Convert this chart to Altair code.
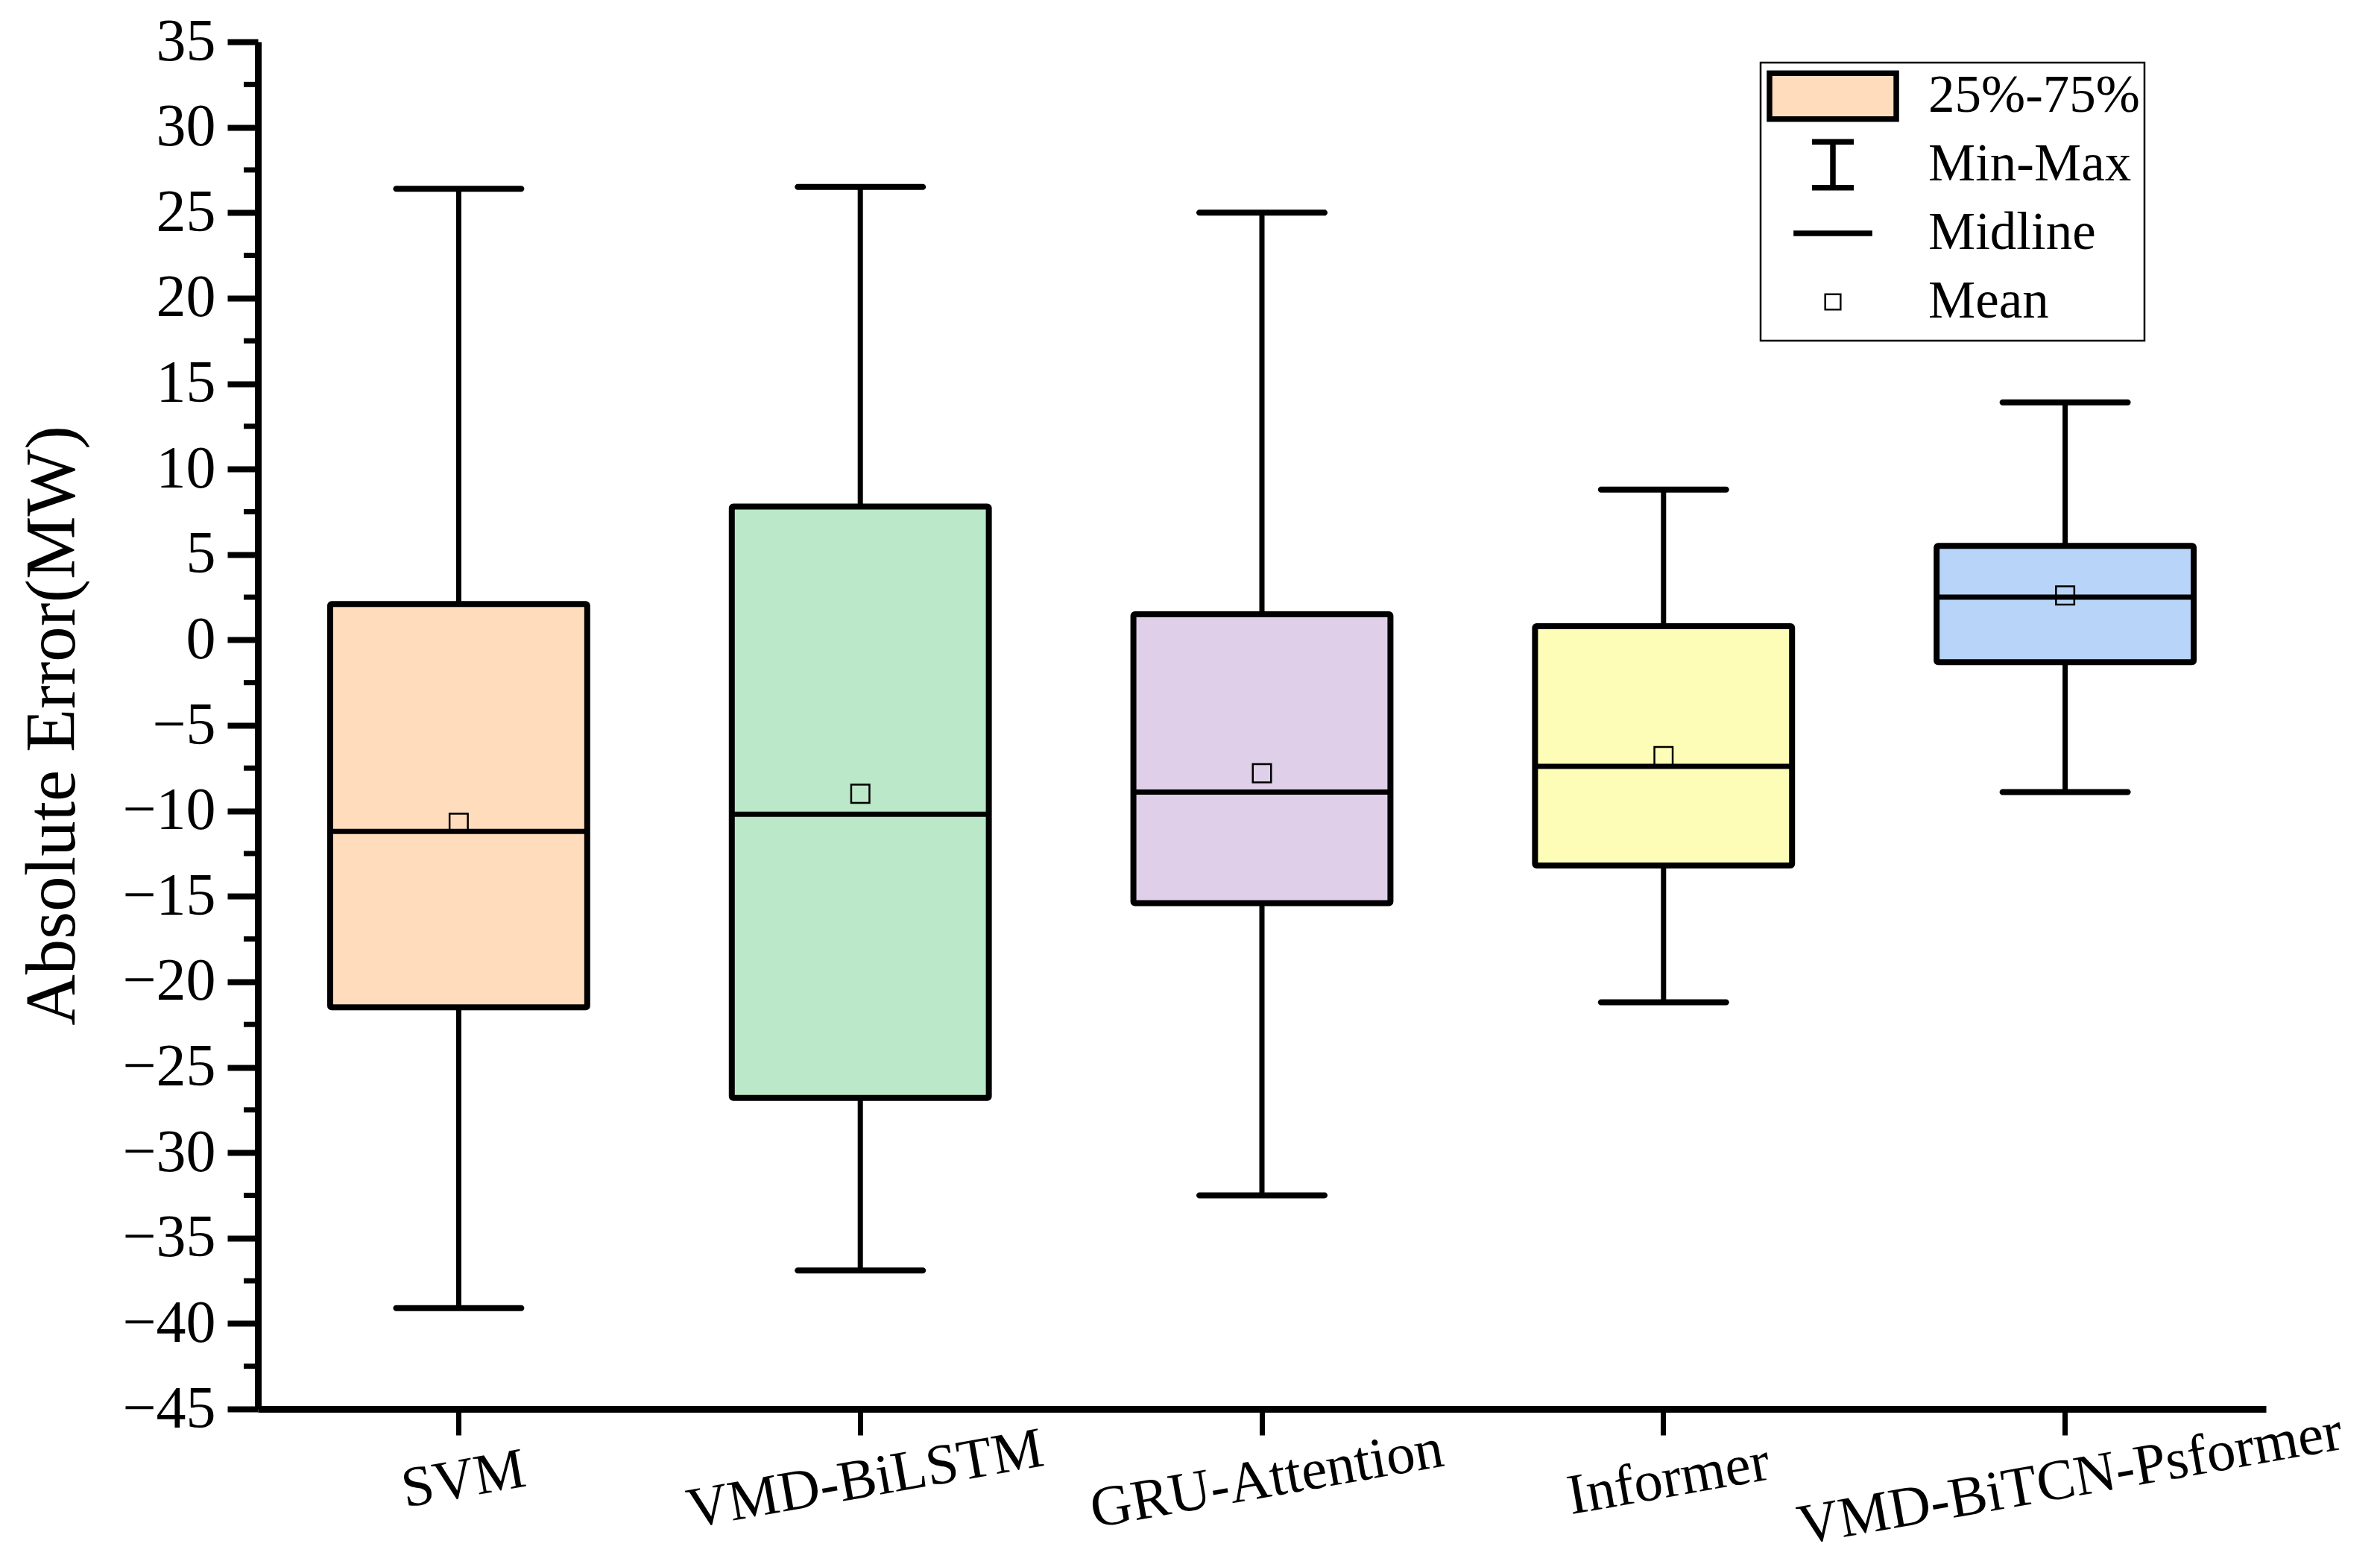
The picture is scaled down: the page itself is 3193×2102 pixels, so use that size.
import altair as alt
import pandas as pd

# ---------------- data ----------------
models = ["SVM", "VMD-BiLSTM", "GRU-Attention", "Informer", "VMD-BiTCN-Psformer"]
max_vals = [26.4, 26.5, 25.0, 8.8, 13.9]
q3_vals = [2.1, 7.8, 1.5, 0.8, 5.5]
median_vals = [-11.2, -10.2, -8.9, -7.4, 2.5]
q1_vals = [-21.5, -26.8, -15.4, -13.2, -1.3]
min_vals = [-39.1, -36.9, -32.5, -21.2, -8.9]
mean_vals = [-10.7, -9.0, -7.8, -6.8, 2.6]
box_colors = ["#FEDCBC", "#BAE8C8", "#DFCFE8", "#FDFDB8", "#B8D4F8"]

y_ticks = [-45, -40, -35, -30, -25, -20, -15, -10, -5, 0, 5, 10, 15, 20, 25, 30, 35]
y_minor_ticks = [-42.5, -37.5, -32.5, -27.5, -22.5, -17.5, -12.5, -7.5,
                 -2.5, 2.5, 7.5, 12.5, 17.5, 22.5, 27.5, 32.5]

legend_items = ["25%-75%", "Min-Max", "Midline", "Mean"]
# every symbol path carries the same vertical extent so rows are even
legend_shapes = [
    "M0,-0.88M0,0.88M-2.43,-0.88H2.43V0.88H-2.43Z",
    "M0,-0.88M0,0.88M-0.8,-0.88H0.8M0,-0.88V0.88M-0.8,0.88H0.8",
    "M0,-0.88M0,0.88M-1.51,0H1.51",
    "M0,-0.88M0,0.88M-0.33,-0.33H0.33V0.33H-0.33Z M-0.26,-0.26V0.26H0.26V-0.26Z",
]
legend_fills = ["#FEDCBC", "transparent", "transparent", "black"]
legend_strokes = ["black", "black", "black", "transparent"]

FONT = "Liberation Serif"

df = pd.DataFrame({
    "model": models,
    "max": max_vals,
    "q3": q3_vals,
    "median": median_vals,
    "q1": q1_vals,
    "min": min_vals,
    "mean": mean_vals,
})

x_enc = alt.X(
    "model:N",
    sort=models,
    scale=alt.Scale(domain=models, paddingInner=0, paddingOuter=0),
    axis=alt.Axis(
        title=None, labelAngle=350, labelAlign="center", labelBaseline="top",
        labelPadding=22, labelFont=FONT, labelFontSize=77, labelColor="black",
        tickSize=35, tickWidth=7, tickColor="black",
        domainColor="black", domainWidth=9, labelOverlap=False, labelLimit=0,
    ),
)

y_scale = alt.Scale(domain=[-45, 35], nice=False, zero=False)
y_axis = alt.Axis(
    title="Absolute Error(MW)", values=y_ticks, labelFont=FONT, labelFontSize=80,
    labelColor="black", labelPadding=16, labelOverlap=False,
    tickSize=41, tickWidth=8, tickColor="black",
    domainColor="black", domainWidth=9, grid=False,
    titleFont=FONT, titleFontSize=95, titleFontWeight="normal", titleColor="black",
    titlePadding=44,
)


def Y(field):
    return alt.Y(f"{field}:Q", scale=y_scale, axis=y_axis)


base = alt.Chart(df)

whisker = base.mark_rule(color="black", strokeWidth=7).encode(
    x=x_enc, y=Y("min"), y2=alt.Y2("max:Q")
)

box = base.mark_bar(
    width=alt.RelativeBandSize(0.64), stroke="black", strokeWidth=8, cornerRadius=2
).encode(
    x=x_enc, y=Y("q1"), y2=alt.Y2("q3:Q"),
    color=alt.Color("model:N", scale=alt.Scale(domain=models, range=box_colors), legend=None),
)

median = base.mark_tick(color="black", size=344, thickness=7, opacity=1).encode(
    x=x_enc, y=Y("median")
)

cap_max = base.mark_tick(color="black", size=176, thickness=8, cornerRadius=4, opacity=1).encode(
    x=x_enc, y=Y("max")
)
cap_min = base.mark_tick(color="black", size=176, thickness=8, cornerRadius=4, opacity=1).encode(
    x=x_enc, y=Y("min")
)

mean = base.mark_point(
    shape="square", size=600, filled=False, color="black", strokeWidth=2.5, opacity=1
).encode(x=x_enc, y=Y("mean"))

minor = alt.Chart(pd.DataFrame({"v": y_minor_ticks})).mark_rule(
    color="black", strokeWidth=7
).encode(
    y=alt.Y("v:Q", scale=y_scale, axis=y_axis),
    x=alt.value(-19), x2=alt.value(0),
)

leg_def = alt.Legend(
    title=None, orient="none", legendX=2016, legendY=28,
    strokeColor="black", padding=6, fillColor="white",
    labelFont=FONT, labelFontSize=71, labelColor="black", labelLimit=0,
    labelOffset=89, symbolOffset=52, rowPadding=0,
    symbolSize=4900, symbolStrokeWidth=7.5,
)

legend_layer = alt.Chart(pd.DataFrame({"item": legend_items})).transform_filter(
    "datum.item == 'none'"
).mark_point(size=4900, filled=True, strokeWidth=7.5, opacity=1).encode(
    shape=alt.Shape("item:N", scale=alt.Scale(domain=legend_items, range=legend_shapes), legend=leg_def),
    fill=alt.Fill("item:N", scale=alt.Scale(domain=legend_items, range=legend_fills), legend=leg_def),
    stroke=alt.Stroke("item:N", scale=alt.Scale(domain=legend_items, range=legend_strokes), legend=leg_def),
)

chart = alt.layer(
    whisker, box, median, cap_max, cap_min, mean, minor, legend_layer
).properties(
    width=2694, height=1834,
    autosize=alt.AutoSizeParams(type="none"),
    padding={"left": 338, "top": 48, "right": 145, "bottom": 204},
    background="white",
).configure_view(stroke=None).configure_legend(strokeWidth=2.5)

chart.save("out.html", embed_options={"renderer": "svg", "actions": False})
